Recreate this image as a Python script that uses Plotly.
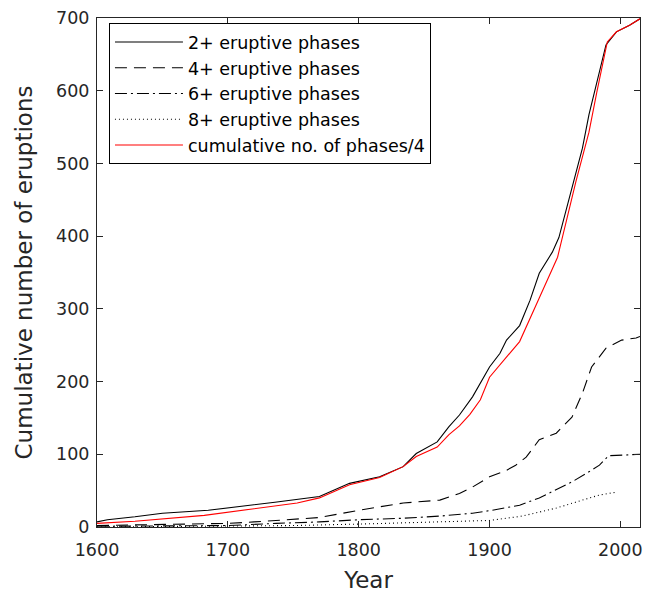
import plotly.graph_objects as go

# ---- data ----
years_2 = [1600, 1608, 1629, 1650, 1685, 1705, 1736, 1770, 1778, 1793, 1816, 1834, 1844, 1860,
           1869, 1877, 1887, 1900, 1908, 1913, 1923, 1931, 1938, 1948, 1953, 1963, 1971, 1976,
           1982, 1989, 1997, 2007, 2015]
vals_2 = [7, 10, 14, 19, 23, 27, 34, 42, 48, 60, 69, 83, 101, 117,
          138, 154, 179, 220, 239, 257, 277, 312, 349, 378, 398, 466, 521, 567,
          612, 663, 681, 690, 699]

years_4 = [1600, 1650, 1700, 1720, 1750, 1770, 1800, 1834, 1862, 1869, 1877, 1887, 1900, 1913,
           1920, 1928, 1938, 1951, 1963, 1971, 1978, 1989, 2001, 2012, 2015]
vals_4 = [2, 3, 5, 7, 10, 13, 23, 33, 37, 41, 46, 55, 69, 78,
          85, 96, 120, 129, 151, 184, 220, 246, 257, 260, 262]

years_6 = [1600, 1700, 1737, 1770, 1800, 1834, 1862, 1887, 1902, 1923, 1938, 1951, 1963, 1976,
           1984, 1991, 1999, 2015]
vals_6 = [1, 2, 5, 7, 10, 12, 15, 19, 23, 30, 40, 51, 62, 76,
          85, 98, 99, 100]

years_8 = [1600, 1700, 1750, 1800, 1862, 1900, 1925, 1951, 1971, 1984, 1997]
vals_8 = [0, 1, 2, 4, 7, 9, 15, 26, 37, 44, 48]

years_ph = [1600, 1629, 1682, 1703, 1736, 1753, 1770, 1793, 1816, 1834, 1844, 1860, 1869, 1877,
            1885, 1893, 1900, 1913, 1923, 1938, 1952, 1966, 1976, 1982, 1988, 1990, 1997,
            2007, 2015]
vals_ph = [5, 8, 16, 21, 29, 33, 40, 58, 68, 83, 97, 110, 127, 139,
           155, 175, 206, 234, 255, 315, 371, 475, 543, 598, 649, 667, 681,
           690, 699]

names = ["2+ eruptive phases", "4+ eruptive phases", "6+ eruptive phases",
         "8+ eruptive phases", "cumulative no. of phases/4"]

x_ticks = [1600, 1700, 1800, 1900, 2000]
y_ticks = [0, 100, 200, 300, 400, 500, 600, 700]

FONT = "DejaVu Sans, Liberation Sans, sans-serif"
AX = "#262626"

fig = go.Figure()
series = [
    (years_2, vals_2, names[0], "black", "solid"),
    (years_4, vals_4, names[1], "black", "12px,7px"),
    (years_6, vals_6, names[2], "black", "12px,4px,2px,4px"),
    (years_8, vals_8, names[3], "black", "1px,3px"),
    (years_ph, vals_ph, names[4], "#ff0000", "solid"),
]
for xs, ys, nm, col, dash in series:
    fig.add_trace(go.Scatter(x=xs, y=ys, name=nm, mode="lines",
                             line=dict(color=col, width=1.1, dash=dash)))

fig.update_layout(
    width=656, height=598,
    margin=dict(l=97, r=16, t=18, b=71),
    paper_bgcolor="white", plot_bgcolor="white",
    font=dict(family=FONT, size=17, color=AX),
    showlegend=True,
    legend=dict(x=0.022, y=0.99, xanchor="left", yanchor="top",
                bgcolor="white", bordercolor="black", borderwidth=1,
                font=dict(family=FONT, size=17.5, color="black"),
                itemwidth=68, tracegroupgap=0),
)
fig.update_xaxes(range=[1600, 2015], tickvals=x_ticks, ticks="inside", ticklen=6,
                 tickcolor=AX, showline=True, linecolor=AX, linewidth=1, mirror="ticks",
                 showgrid=False, zeroline=False, ticklabelstandoff=7, automargin=False,
                 title=dict(text="Year", font=dict(size=23), standoff=12),
                 tickfont=dict(size=17.5))
fig.update_yaxes(range=[0, 700], tickvals=y_ticks, ticks="inside", ticklen=6,
                 tickcolor=AX, showline=True, linecolor=AX, linewidth=1, mirror="ticks",
                 showgrid=False, zeroline=False, ticklabelstandoff=3, automargin=False,
                 title=dict(text="Cumulative number of eruptions", font=dict(size=23), standoff=17),
                 tickfont=dict(size=17.5))

fig.write_html("out.html")
